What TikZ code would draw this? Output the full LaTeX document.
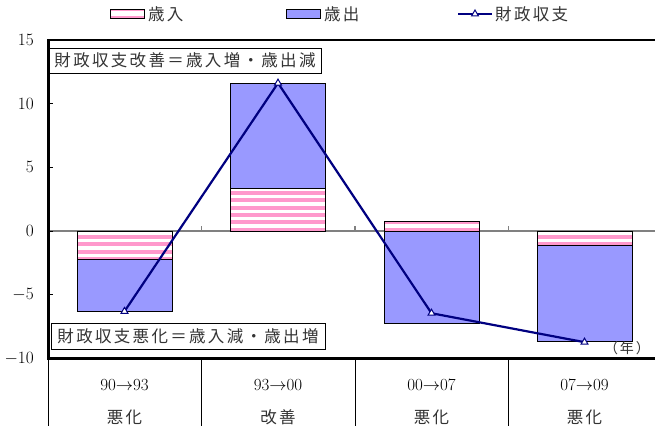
\documentclass[tikz,border=0pt]{standalone}
\usepackage{fontspec}
\newfontfamily\jpfont[LetterSpace=14]{Noto Sans CJK JP}
\usetikzlibrary{positioning,shapes.geometric}
\definecolor{revpink}{RGB}{255,153,204}
\definecolor{spendblue}{RGB}{153,153,255}
\definecolor{balnavy}{RGB}{0,0,128}
\tikzset{
  barline/.style={draw=black,line width=1pt},
  frameline/.style={line width=2.4pt},
  zeroline/.style={draw=black!50,line width=1.3pt},
  axistick/.style={line width=1pt},
  catline/.style={line width=0.9pt},
  balance/.style={draw=balnavy,line width=2.2pt,line join=round},
  marker/.style={regular polygon,regular polygon sides=3,draw=balnavy,fill=white,
    line width=1pt,minimum size=8pt,inner sep=0pt},
  swatch/.style={draw=black,line width=0.8pt,minimum width=34pt,minimum height=9pt,inner sep=0pt},
  keytext/.style={inner sep=0pt,anchor=west,text=black!80,font=\jpfont\fontsize{16.5}{18}\selectfont},
  notebox/.style={draw=black,line width=0.8pt,fill=white,inner sep=0pt,text=black!80,
    font=\jpfont\fontsize{16.5}{18}\selectfont},
  ylabel/.style={anchor=east,inner sep=0pt,font=\fontsize{16}{18}\selectfont},
  catlabel/.style={inner sep=0pt,font=\fontsize{17}{19}\selectfont},
  jplabel/.style={inner sep=0pt,text=black!80,font=\jpfont\fontsize{16.5}{18}\selectfont},
  yearlabel/.style={inner sep=0pt,text=black!80,font=\jpfont\fontsize{14}{16}\selectfont}
}
% striped revenue bar: x centre, from, to
\newcommand{\incomebar}[3]{%
  \begin{scope}
    \clip (#1-47.5,#2) rectangle (#1+47.5,#3);
    \foreach \k in {-5,...,6}
      \fill[revpink] (#1-47.5,0.1+0.575*\k-0.157) rectangle (#1+47.5,0.1+0.575*\k+0.157);
  \end{scope}
  \draw[barline] (#1-47.5,#2) rectangle (#1+47.5,#3);
}
% spending bar: x centre, from, to
\newcommand{\spendbar}[3]{%
  \draw[barline,fill=spendblue] (#1-47.5,#2) rectangle (#1+47.5,#3);
}
\begin{document}
\begin{tikzpicture}[x=1pt,y=1pt]
  \useasboundingbox (0,0) rectangle (655,426);
  % legend
  \node[swatch,fill=revpink,path picture={
      \fill[white] ([yshift=-2.5pt]path picture bounding box.west)
        rectangle ([yshift=2.5pt]path picture bounding box.east);}]
    (keyrev) at (127,412) {};
  \node[keytext,right=3.5pt of keyrev] (keyrevtext) {歳入};
  \node[swatch,fill=spendblue] (keyspend) at (303,412) {};
  \node[keytext,right=3.5pt of keyspend] (keyspendtext) {歳出};
  \coordinate (keyl) at (458,412);
  \coordinate (keyr) at (492,412);
  \draw[balance,line width=1.8pt] (keyl) -- (keyr);
  \node[marker] (keymark) at (475,412) {};
  \node[keytext,right=3pt of keyr] (keybaltext) {財政収支};
  % plot, in data units
  \begin{scope}[yshift=195pt,y=12.75pt]
    \draw[zeroline] (48.5,0) -- (661.7,0);
    \foreach \x in {201.8,355.1,508.4}
      \draw[zeroline] (\x,0) -- (\x,0.42);
    \incomebar{124.5}{0}{-2.22}
    \spendbar{124.5}{-2.22}{-6.33}
    \incomebar{278}{0}{3.32}
    \spendbar{278}{3.32}{11.58}
    \incomebar{431.5}{0}{0.73}
    \spendbar{431.5}{0}{-7.22}
    \incomebar{584.5}{0}{-1.1}
    \spendbar{584.5}{-1.1}{-8.68}
    % balance line
    \coordinate (p1) at (124.5,-6.3);
    \coordinate (p2) at (278,11.6);
    \coordinate (p3) at (431.5,-6.45);
    \coordinate (p4) at (584.5,-8.72);
    \draw[balance] (p1) -- (p2) -- (p3) -- (p4);
    \foreach \i in {1,...,4}
      \node[marker] (m\i) at (p\i) {};
    % frame and axis
    \draw[frameline] (48.5,-10) rectangle (661.7,15);
    \foreach \v in {-5,0,5,10}
      \draw[axistick] (48.5,\v) -- (53,\v);
    \foreach \v [count=\i] in {-10,-5,...,15}
      \node[ylabel] (ylab\i) at (34,\v) {$\v$};
  \end{scope}
  % category table
  \foreach \x in {48.5,201.8,355.1,508.4}
    \draw[catline] (\x,67.5) -- (\x,0);
  \node[catlabel] (per1) at (124.5,41) {90$\rightarrow$93};
  \node[catlabel] (per2) at (278,41) {93$\rightarrow$00};
  \node[catlabel] (per3) at (431.5,41) {00$\rightarrow$07};
  \node[catlabel] (per4) at (584.5,41) {07$\rightarrow$09};
  \node[jplabel] (trend1) at (124.5,9) {悪化};
  \node[jplabel] (trend2) at (278,9) {改善};
  \node[jplabel] (trend3) at (431.5,9) {悪化};
  \node[jplabel] (trend4) at (584.5,9) {悪化};
  % notes
  \node[notebox,minimum width=272pt,minimum height=25pt] (upbox) at (185,365.5)
    {財政収支改善＝歳入増・歳出減};
  \node[notebox,minimum width=274pt,minimum height=26pt] (downbox) at (188,90)
    {財政収支悪化＝歳入減・歳出増};
  \node[yearlabel] (unit) at (627,78) {（年）};
\end{tikzpicture}
\end{document}
